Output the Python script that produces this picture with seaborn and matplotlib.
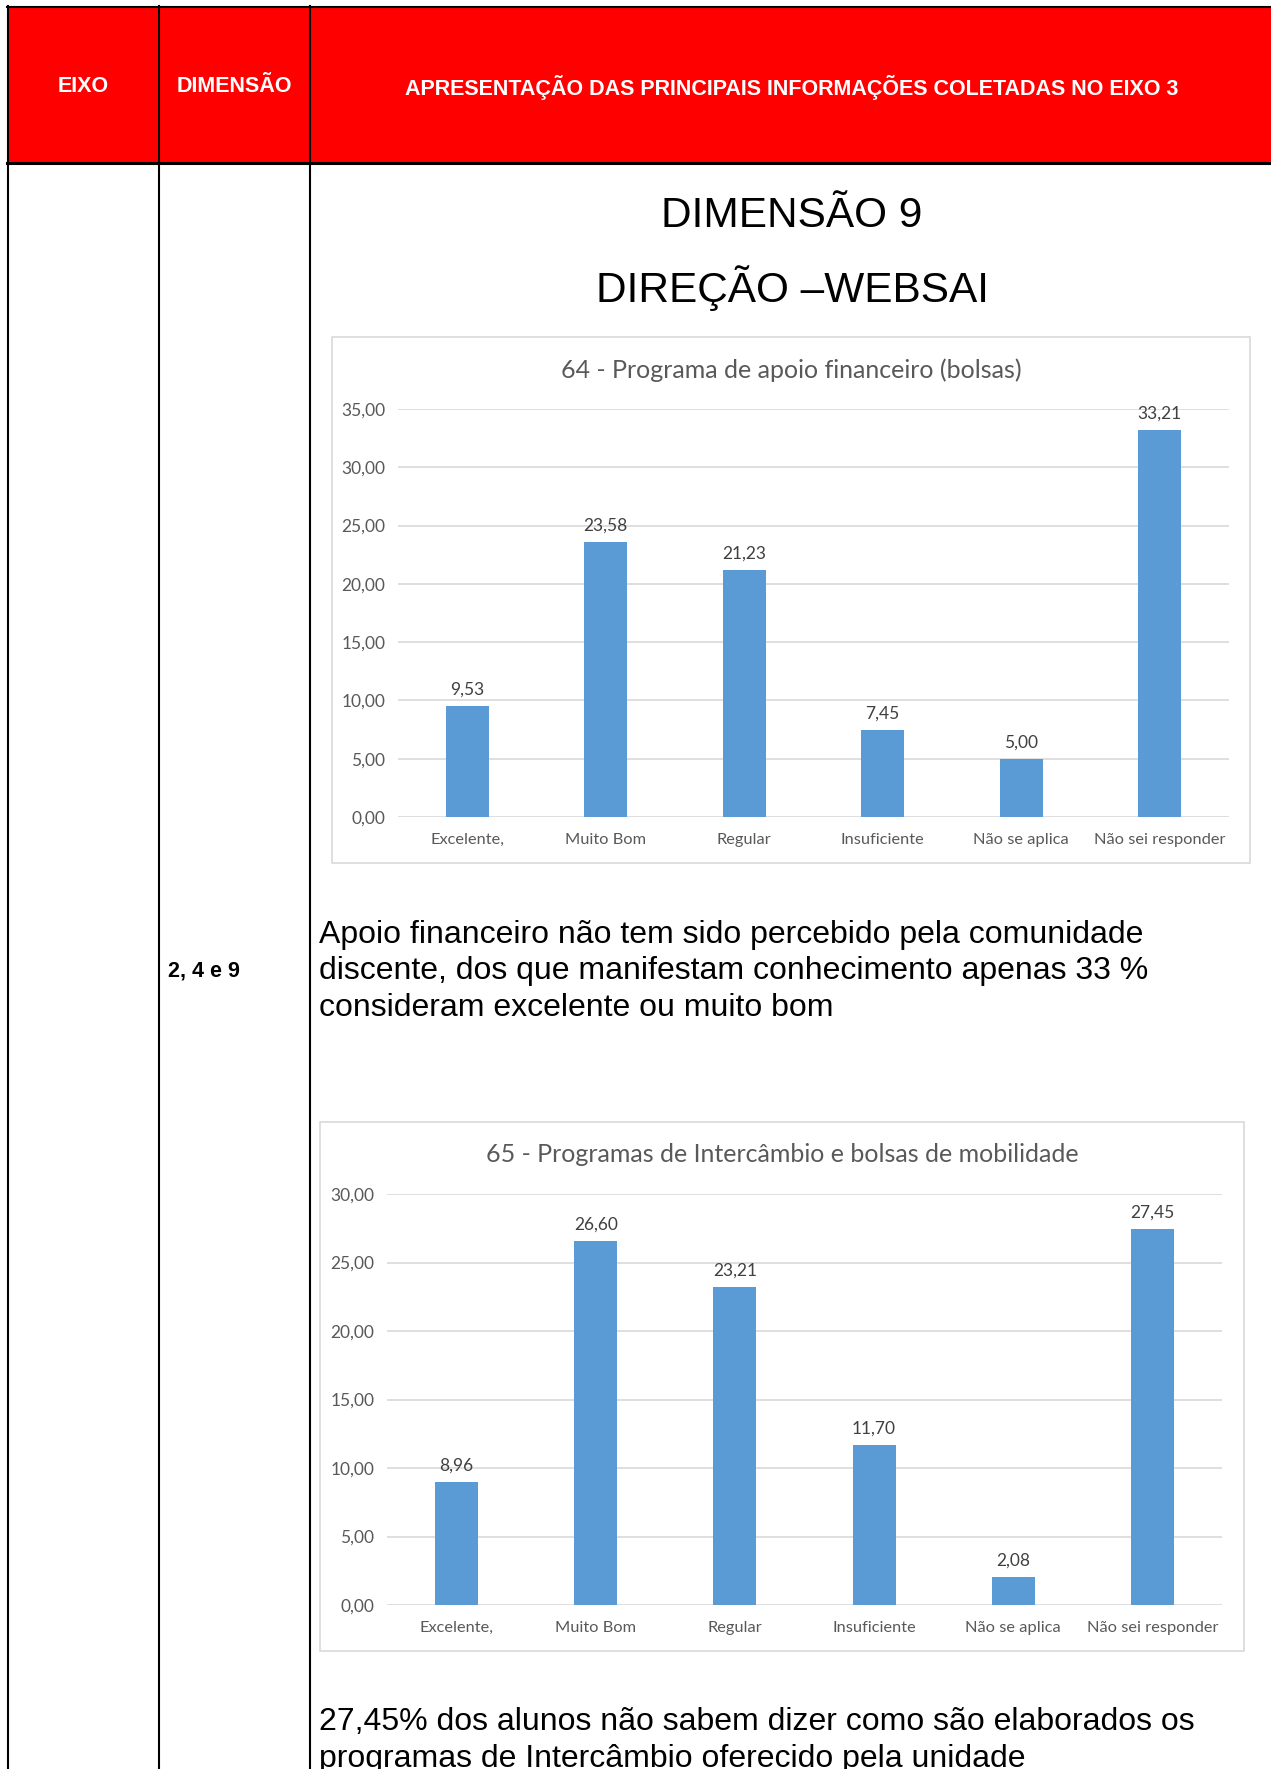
import numpy as np
import pandas as pd
import seaborn as sns
import matplotlib.pyplot as plt
from matplotlib.patches import Rectangle
from matplotlib.lines import Line2D
from matplotlib.ticker import FuncFormatter

W, H = 1271, 1769

cabecalho = ['EIXO', 'DIMENSÃO', 'APRESENTAÇÃO DAS PRINCIPAIS INFORMAÇÕES COLETADAS NO EIXO 3']
dimensao = '2, 4 e 9'
titulos = ['DIMENSÃO 9', 'DIREÇÃO –WEBSAI']

categorias = ['Excelente,', 'Muito Bom', 'Regular', 'Insuficiente', 'Não se aplica', 'Não sei responder']
valores_64 = [9.53, 23.58, 21.23, 7.45, 5.00, 33.21]
valores_65 = [8.96, 26.60, 23.21, 11.70, 2.08, 27.45]
titulo_64 = '64 - Programa de apoio financeiro (bolsas)'
titulo_65 = '65 - Programas de Intercâmbio e bolsas de mobilidade'

texto_64 = ['Apoio financeiro não tem sido percebido pela comunidade',
            'discente, dos que manifestam conhecimento apenas 33 %',
            'consideram excelente ou muito bom']
texto_65 = ['27,45% dos alunos não sabem dizer como são elaborados os',
            'programas de Intercâmbio oferecido pela unidade']

ARIAL = 'Liberation Sans'
CHART_FONT = 'Lato'


def fx(px):
    return px / W


def fy(py):
    return 1 - py / H


def virgula(v, pos=None):
    return f'{v:.2f}'.replace('.', ',')


def hline(fig, x0, x1, y, lw=1.5):
    fig.add_artist(Line2D([fx(x0), fx(x1)], [fy(y), fy(y)], transform=fig.transFigure, color='black', lw=lw))


def vline(fig, x, y0, y1, lw=1.5):
    fig.add_artist(Line2D([fx(x), fx(x)], [fy(y0), fy(y1)], transform=fig.transFigure, color='black', lw=lw))


def barChart(fig, box, plot, valores, titulo, ymax, title_y):
    fig.add_artist(Rectangle((fx(box[0]), fy(box[3])), fx(box[2] - box[0]), (box[3] - box[1]) / H,
                             transform=fig.transFigure, facecolor='white', edgecolor='#D9D9D9',
                             lw=1.2, zorder=-1))
    ax = fig.add_axes([fx(plot[0]), fy(plot[3]), fx(plot[2] - plot[0]), (plot[3] - plot[1]) / H])
    d = pd.DataFrame({'categoria': categorias, 'valor': valores})
    sns.barplot(data=d, x='categoria', y='valor', color='#5B9BD5', saturation=1, width=0.31, ax=ax)
    ax.set_xlim(-0.5, 5.5)
    ax.set_ylim(0, ymax)
    ax.set_yticks(np.arange(0, ymax + 1, 5))
    ax.yaxis.set_major_formatter(FuncFormatter(virgula))
    ax.grid(axis='y', color='#D9D9D9', lw=1.2)
    ax.set_axisbelow(True)
    for s in ax.spines.values():
        s.set_visible(False)
    ax.tick_params(axis='y', length=0, colors='#595959', labelsize=12.5, pad=9)
    ax.tick_params(axis='x', length=0, colors='#595959', labelsize=11.8, pad=11.5)
    for lab in ax.get_xticklabels() + ax.get_yticklabels():
        lab.set_fontfamily(CHART_FONT)
    ax.set_xlabel('')
    ax.set_ylabel('')
    ax.patch.set_alpha(0)
    ax.bar_label(ax.containers[0], labels=[virgula(v) for v in valores], padding=6,
                 color='#404040', fontsize=12.5, fontfamily=CHART_FONT)
    fig.text(fx((box[0] + box[2]) / 2), fy(title_y), titulo, ha='center', va='center',
             fontsize=18, color='#595959', fontfamily=CHART_FONT)
    return ax


fig = plt.figure(figsize=(W / 100, H / 100), dpi=100)

# cabecalho vermelho
fig.add_artist(Rectangle((fx(8), fy(163)), fx(W - 8), (163 - 7) / H, transform=fig.transFigure,
                         facecolor='#FF0000', edgecolor='none', zorder=-1))
for x, t in zip([83, 234, 792], cabecalho):
    fig.text(fx(x), fy(87), t, ha='center', va='center', color='white', fontsize=15.5,
             fontweight='bold', fontfamily=ARIAL)

hline(fig, 7, W, 7)
hline(fig, 7, W, 163, lw=2.2)
for x in [8, 159, 310]:
    vline(fig, x, 6, H)

fig.text(fx(168), fy(971), dimensao, ha='left', va='center', fontsize=15.5, fontweight='bold', fontfamily=ARIAL)

for y, t in zip([216, 288], titulos):
    fig.text(fx(792), fy(y), t, ha='center', va='center', fontsize=30.5, fontfamily=ARIAL)

barChart(fig, (332, 337, 1250, 863), (398, 409, 1229, 817), valores_64, titulo_64, 35, 370)
for y, t in zip([935, 971, 1008], texto_64):
    fig.text(fx(319), fy(y), t, ha='left', va='center', fontsize=23, fontfamily=ARIAL)

barChart(fig, (320, 1122, 1244, 1651), (387, 1194, 1222, 1605), valores_65, titulo_65, 30, 1155)
for y, t in zip([1722, 1759], texto_65):
    fig.text(fx(319), fy(y), t, ha='left', va='center', fontsize=23, fontfamily=ARIAL)

plt.savefig('out.png', dpi=100)
